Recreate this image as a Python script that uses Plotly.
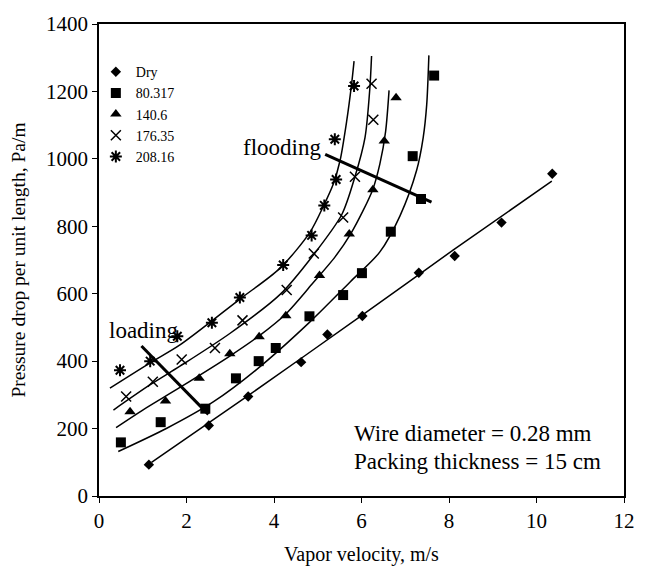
import plotly.graph_objects as go

# ---- measured data (velocity m/s, pressure drop Pa/m) ----
dry_v = [1.14, 2.51, 3.41, 4.62, 5.22, 6.02, 7.31, 8.13, 9.20, 10.36]
dry_p = [93, 209, 295, 397, 479, 534, 662, 712, 811, 956]

s80_v = [0.50, 1.41, 2.43, 3.13, 3.65, 4.04, 4.81, 5.58, 6.01, 6.67, 7.36, 7.17, 7.66]
s80_p = [159, 219, 259, 349, 400, 439, 533, 596, 661, 784, 881, 1008, 1247]

s140_v = [0.71, 1.52, 2.29, 2.99, 3.66, 4.27, 5.04, 5.72, 6.26, 6.52, 6.79]
s140_p = [250, 282, 349, 422, 472, 535, 654, 777, 908, 1053, 1181]

s176_v = [0.62, 1.23, 1.89, 2.65, 3.28, 4.29, 4.91, 5.58, 5.85, 6.27, 6.23]
s176_p = [295, 339, 405, 439, 521, 611, 719, 826, 947, 1116, 1223]

s208_v = [0.48, 1.17, 1.79, 2.58, 3.22, 4.21, 4.86, 5.15, 5.42, 5.39, 5.83]
s208_p = [373, 400, 474, 514, 589, 685, 773, 862, 939, 1058, 1216]

# model curves
c_dry_v = [1.2, 3.4, 6.0, 8.1, 10.35]
c_dry_p = [100, 297, 535, 730, 934]

c80_v = [0.44, 1.55, 2.61, 3.60, 4.81, 5.74, 6.42, 6.88, 7.26, 7.41, 7.49, 7.54]
c80_p = [132, 201, 279, 375, 515, 635, 724, 831, 966, 1063, 1160, 1307]

c140_v = [0.39, 1.0, 1.85, 2.99, 3.66, 4.27, 4.86, 5.40, 5.75, 6.05, 6.26, 6.42, 6.55, 6.63]
c140_p = [203, 255, 322, 415, 475, 540, 627, 710, 777, 850, 910, 985, 1080, 1203]

c176_v = [0.33, 1.17, 1.85, 2.99, 4.14, 4.90, 5.55, 5.85, 6.08, 6.19, 6.23]
c176_p = [255, 330, 385, 482, 598, 715, 835, 947, 1063, 1208, 1305]

c208_v = [0.25, 1.17, 1.85, 3.22, 4.14, 4.82, 5.13, 5.36, 5.51, 5.66, 5.77, 5.83]
c208_p = [320, 395, 448, 584, 676, 782, 860, 927, 995, 1111, 1218, 1290]

loading_v = [0.97, 2.50]
loading_p = [445, 242]
flooding_v = [5.17, 7.60]
flooding_p = [1013, 872]

names = ["Dry", "80.317", "140.6", "176.35", "208.16"]

FONT = "Liberation Serif"
fig = go.Figure()

for cv, cp in [(c_dry_v, c_dry_p), (c80_v, c80_p), (c140_v, c140_p),
               (c176_v, c176_p), (c208_v, c208_p)]:
    fig.add_trace(go.Scatter(x=cv, y=cp, mode="lines",
                             line=dict(color="black", width=1.5, shape="spline", smoothing=0.8),
                             showlegend=False, hoverinfo="skip"))

for lv, lp in [(loading_v, loading_p), (flooding_v, flooding_p)]:
    fig.add_trace(go.Scatter(x=lv, y=lp, mode="lines",
                             line=dict(color="black", width=3),
                             showlegend=False, hoverinfo="skip"))

series = [
    (dry_v, dry_p, dict(symbol="diamond", size=8, color="black")),
    (s80_v, s80_p, dict(symbol="square", size=10, color="black")),
    (s140_v, s140_p, dict(symbol="triangle-up", size=10, color="black")),
    (s176_v, s176_p, dict(symbol="x-thin", size=10, color="black",
                          line=dict(color="black", width=1.5))),
    (s208_v, s208_p, dict(symbol="asterisk", size=10, color="black",
                          line=dict(color="black", width=2))),
]
for (v, p, m), n in zip(series, names):
    fig.add_trace(go.Scatter(x=v, y=p, mode="markers", marker=m, name=n))

ann_font = dict(family=FONT, size=23, color="black")
fig.add_annotation(x=0.18, y=491, text="loading", showarrow=False,
                   xanchor="left", yanchor="middle", font=ann_font)
fig.add_annotation(x=3.25, y=1034, text="flooding", showarrow=False,
                   xanchor="left", yanchor="middle", font=ann_font)
fig.add_annotation(x=5.78, y=186, text="Wire diameter = 0.28 mm", showarrow=False,
                   xanchor="left", yanchor="middle", font=ann_font)
fig.add_annotation(x=5.78, y=102, text="Packing thickness = 15 cm", showarrow=False,
                   xanchor="left", yanchor="middle", font=ann_font)

axis_common = dict(showgrid=False, zeroline=False, showline=True, mirror=True,
                   linecolor="black", linewidth=1.5, ticks="outside", ticklen=5,
                   tickcolor="black", tickwidth=1,
                   tickfont=dict(family=FONT, size=21, color="black"))
fig.update_xaxes(range=[0, 12], dtick=2, tick0=0,
                 title=dict(text="Vapor velocity, m/s", font=dict(family=FONT, size=20, color="black")),
                 **axis_common)
fig.update_yaxes(range=[0, 1400], dtick=200, tick0=0,
                 title=dict(text="Pressure drop per unit length, Pa/m",
                            font=dict(family=FONT, size=19.5, color="black")),
                 **axis_common)

fig.update_layout(
    width=648, height=574,
    margin=dict(l=99, r=24, t=14, b=78),
    plot_bgcolor="white", paper_bgcolor="white",
    font=dict(family=FONT, color="black"),
    legend=dict(x=-0.006, y=0.932, xanchor="left", yanchor="top",
                bgcolor="rgba(0,0,0,0)", font=dict(family=FONT, size=14, color="black"),
                itemwidth=30),
)

fig.write_html("out.html")
